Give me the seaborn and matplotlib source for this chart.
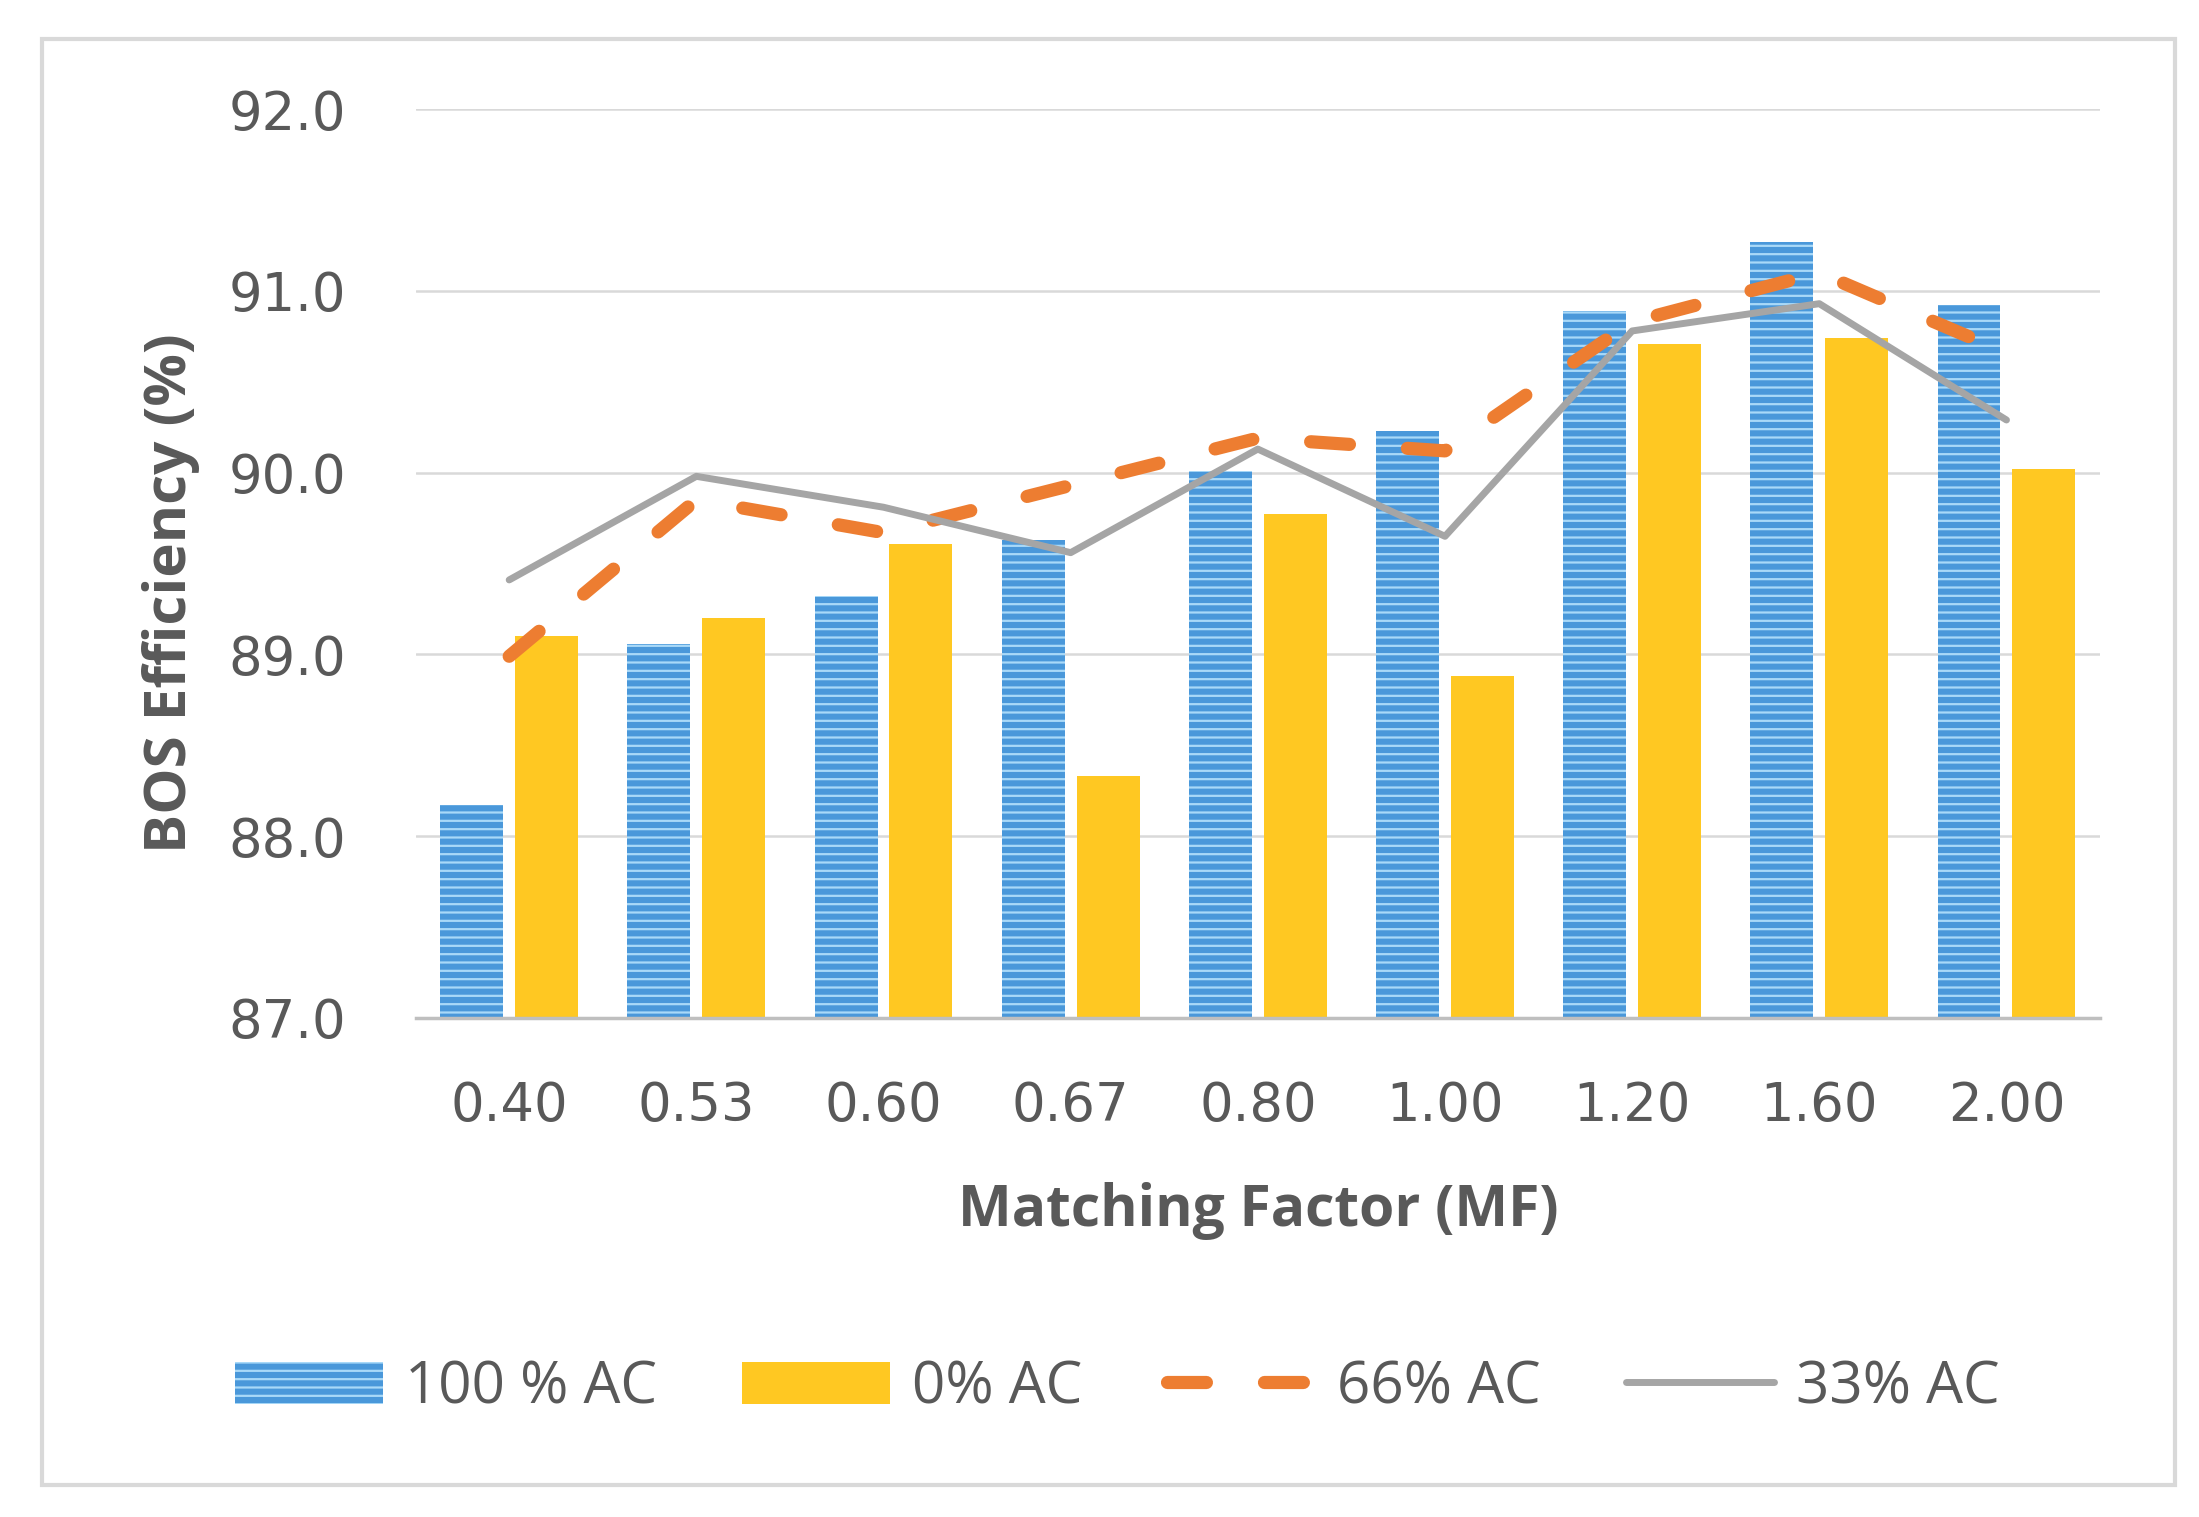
import numpy as np
import pandas as pd
import matplotlib
matplotlib.use("Agg")
import matplotlib.pyplot as plt
from matplotlib.patches import Patch, Rectangle
from matplotlib.lines import Line2D
import seaborn as sns

# values
mf = ["0.40", "0.53", "0.60", "0.67", "0.80", "1.00", "1.20", "1.60", "2.00"]
ac100 = [88.17, 89.06, 89.32, 89.63, 90.01, 90.23, 90.89, 91.27, 90.92]
ac0 = [89.10, 89.20, 89.61, 88.33, 89.77, 88.88, 90.71, 90.74, 90.02]
ac66 = [88.99, 89.85, 89.67, 89.93, 90.19, 90.12, 90.83, 91.10, 90.66]
ac33 = [89.41, 89.98, 89.81, 89.56, 90.13, 89.65, 90.78, 90.93, 90.29]
bar_names = ["100 % AC", "0% AC"]
line_names = ["66% AC", "33% AC"]

blue = "#4a98da"
stripe = "#a9d9f8"
yellow = "#ffc822"
orange = "#ed7d31"
grey = "#a5a5a5"
txt = "#595959"
dash = [2.95, 4.4]

bars = pd.DataFrame({
    "MF": mf * 2,
    "eff": ac100 + ac0,
    "series": [bar_names[0]] * len(mf) + [bar_names[1]] * len(mf),
})

sns.set_style("white")
plt.rcParams["font.family"] = ["DejaVu Sans"]
plt.rcParams["hatch.linewidth"] = 1.6

fig = plt.figure(figsize=(21.99, 15.17), dpi=100)
ax = fig.add_axes([0.189, 0.329, 0.766, 0.599])

sns.barplot(data=bars, x="MF", y="eff", hue="series", order=mf,
            palette=[blue, yellow], saturation=1, width=0.8, gap=0.16,
            linewidth=0, legend=False, ax=ax)
# stripes on the blue bars
for p in ax.patches[:len(mf)]:
    p.set_hatch("--")
    p.set_edgecolor(stripe)
    p.set_linewidth(0)

idx = np.arange(len(mf))
sns.lineplot(x=idx, y=ac66, color=orange, ax=ax)
l66 = ax.lines[-1]
l66.set_linewidth(9.5)
l66.set_dashes(dash)
l66.set_dash_capstyle("round")
sns.lineplot(x=idx, y=ac33, color=grey, ax=ax)
ax.lines[-1].set_linewidth(5)

ax.set_ylim(87, 92)
ax.set_xlim(-0.5, len(mf) - 0.5)
ax.set_yticks(np.arange(87, 92.01, 1))
ax.set_yticklabels([f"{v:.1f}" for v in np.arange(87, 92.01, 1)])
ax.yaxis.grid(True, color="#d9d9d9", linewidth=1.8)
ax.set_axisbelow(True)
for s in ["top", "right", "left"]:
    ax.spines[s].set_visible(False)
ax.spines["bottom"].set_color("#bfbfbf")
ax.spines["bottom"].set_linewidth(2.5)
ax.tick_params(axis="both", length=0, labelsize=38, colors=txt)
ax.tick_params(axis="x", pad=45)
ax.tick_params(axis="y", pad=50)

ax.set_xlabel("Matching Factor (MF)", fontsize=41, fontweight="bold",
              color=txt, family="Open Sans", labelpad=36)
ax.set_ylabel("BOS Efficiency (%)", fontsize=42, fontweight="bold",
              color=txt, family="Open Sans")
ax.yaxis.set_label_coords(-0.128, 0.467)

handles = [
    Patch(facecolor=blue, edgecolor=stripe, hatch="--", linewidth=0),
    Patch(facecolor=yellow, linewidth=0),
    Line2D([], [], color=orange, linewidth=9.5, dashes=dash,
           dash_capstyle="round"),
    Line2D([], [], color=grey, linewidth=5),
]
fig.legend(handles, bar_names + line_names, loc="center",
           bbox_to_anchor=(0.508, 0.085), ncol=4, frameon=False,
           prop={"family": "Open Sans", "size": 42}, labelcolor=txt,
           handlelength=2.55, handleheight=0.75, handletextpad=0.37,
           columnspacing=1.45)

fig.patches.append(Rectangle((0.019, 0.021), 0.97, 0.953,
                             transform=fig.transFigure, fill=False,
                             edgecolor="#d9d9d9", linewidth=3))

fig.savefig("out.png", dpi=100, facecolor="white")
